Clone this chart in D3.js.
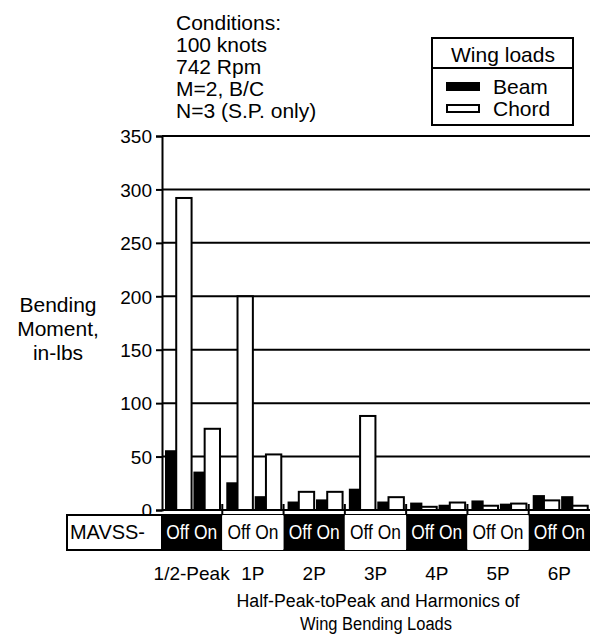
<!DOCTYPE html>
<html>
<head>
<meta charset="utf-8">
<script src="https://cdn.jsdelivr.net/npm/d3@7"></script>
<style>
  body { margin: 0; background: #fff; }
  text { font-family: "Liberation Sans", Arial, sans-serif; fill: #000; }
</style>
</head>
<body>
<script>
// data
var categories = ["1/2-Peak", "1P", "2P", "3P", "4P", "5P", "6P"];
var beamOff  = [55, 25, 7, 19, 6, 8, 13];
var chordOff = [292, 200, 17, 88, 3, 4, 9];
var beamOn   = [35, 12, 9, 7, 4, 5, 12];
var chordOn  = [76, 52, 17, 12, 7, 6, 4];
var yTicks = [0, 50, 100, 150, 200, 250, 300, 350];
var conditions = ["Conditions:", "100 knots", "742 Rpm", "M=2, B/C", "N=3 (S.P. only)"];

var w = 590, h = 635;
var plotLeft = 162, plotRight = 590, plotTop = 136, plotBottom = 510;

var svg = d3.select("body").append("svg")
  .attr("width", w)
  .attr("height", h);

var y = d3.scaleLinear().domain([0, 350]).range([plotBottom, plotTop]);

// groups span from the label row start
var x = d3.scaleBand().domain(categories).range([161, 590]);
var pair = d3.scaleBand().domain(["Off", "On"]).range([5, 59]).paddingInner(0.1);
var beamW = pair.bandwidth() * 0.4;
var chordW = pair.bandwidth() - beamW;

// gridlines
svg.append("g").selectAll("line")
  .data(yTicks.filter(function(d) { return d > 0; }))
  .enter().append("line")
  .attr("x1", plotLeft).attr("x2", plotRight)
  .attr("y1", function(d) { return y(d); })
  .attr("y2", function(d) { return y(d); })
  .attr("stroke", "#000").attr("stroke-width", 2);

// y axis
var yAxis = svg.append("g")
  .attr("transform", "translate(" + plotLeft + ",0)")
  .call(d3.axisLeft(y).tickValues(yTicks).tickSize(6).tickPadding(4));
yAxis.select(".domain").attr("stroke-width", 2);
yAxis.selectAll(".tick line").attr("stroke-width", 2);
yAxis.selectAll("text").style("font-size", "19px").attr("dy", "0.36em");

// bars
var rows = categories.map(function(c, i) {
  return [
    { cat: c, m: "Off", type: "beam", v: beamOff[i] },
    { cat: c, m: "Off", type: "chord", v: chordOff[i] },
    { cat: c, m: "On", type: "beam", v: beamOn[i] },
    { cat: c, m: "On", type: "chord", v: chordOn[i] }
  ];
});
var flat = [].concat.apply([], rows);

svg.append("g").selectAll("rect")
  .data(flat)
  .enter().append("rect")
  .attr("x", function(d) {
    return x(d.cat) + pair(d.m) + (d.type == "chord" ? beamW : 0);
  })
  .attr("width", function(d) { return d.type == "beam" ? beamW : chordW; })
  .attr("y", function(d) { return y(d.v); })
  .attr("height", function(d) { return plotBottom - y(d.v); })
  .attr("fill", function(d) { return d.type == "beam" ? "#000" : "#fff"; })
  .attr("stroke", "#000")
  .attr("stroke-width", 2);

// baseline
svg.append("line")
  .attr("x1", plotLeft).attr("x2", plotRight)
  .attr("y1", plotBottom).attr("y2", plotBottom)
  .attr("stroke", "#000").attr("stroke-width", 2);

// group boundary ticks
svg.append("g").selectAll("line")
  .data(categories.slice(1))
  .enter().append("line")
  .attr("x1", function(d) { return x(d); })
  .attr("x2", function(d) { return x(d); })
  .attr("y1", plotBottom - 6).attr("y2", plotBottom + 7)
  .attr("stroke", "#000").attr("stroke-width", 2);

// MAVSS row
var rowTop = 515, rowBot = 550;
svg.append("rect")
  .attr("x", 67).attr("y", rowTop)
  .attr("width", 590 - 67).attr("height", rowBot - rowTop)
  .attr("fill", "#fff").attr("stroke", "#000").attr("stroke-width", 2);
svg.append("text")
  .attr("x", 70).attr("y", 539)
  .style("font-size", "21px")
  .attr("textLength", 75).attr("lengthAdjust", "spacingAndGlyphs")
  .text("MAVSS-");

var cells = svg.append("g").selectAll("g")
  .data(categories)
  .enter().append("g");
cells.append("rect")
  .attr("x", function(d) { return x(d); })
  .attr("y", rowTop)
  .attr("width", x.bandwidth())
  .attr("height", rowBot - rowTop)
  .attr("fill", function(d, i) { return i % 2 == 0 ? "#000" : "#fff"; });
cells.append("text")
  .attr("x", function(d) { return x(d) + x.bandwidth() / 2; })
  .attr("y", 539)
  .attr("text-anchor", "middle")
  .style("font-size", "21px")
  .attr("textLength", 51).attr("lengthAdjust", "spacingAndGlyphs")
  .style("fill", function(d, i) { return i % 2 == 0 ? "#fff" : "#000"; })
  .text("Off On");

// category labels
svg.append("g").selectAll("text")
  .data(categories)
  .enter().append("text")
  .attr("x", function(d) { return x(d) + x.bandwidth() / 2; })
  .attr("y", 580)
  .attr("text-anchor", "middle")
  .style("font-size", "19px")
  .text(function(d) { return d; });

// x title
svg.append("text")
  .attr("x", 378).attr("y", 607)
  .attr("text-anchor", "middle")
  .style("font-size", "18px")
  .attr("textLength", 283).attr("lengthAdjust", "spacingAndGlyphs")
  .text("Half-Peak-toPeak and Harmonics of");
svg.append("text")
  .attr("x", 376).attr("y", 630)
  .attr("text-anchor", "middle")
  .style("font-size", "18px")
  .attr("textLength", 152).attr("lengthAdjust", "spacingAndGlyphs")
  .text("Wing Bending Loads");

// y title
svg.append("text")
  .attr("text-anchor", "middle")
  .style("font-size", "21px")
  .selectAll("tspan")
  .data(["Bending", "Moment,", "in-lbs"])
  .enter().append("tspan")
  .attr("x", 58)
  .attr("y", function(d, i) { return 312 + i * 24; })
  .text(function(d) { return d; });

// conditions
svg.append("text")
  .style("font-size", "21px")
  .selectAll("tspan")
  .data(conditions)
  .enter().append("tspan")
  .attr("x", 176)
  .attr("y", function(d, i) { return 30 + i * 22; })
  .text(function(d) { return d; });

// legend
var lg = svg.append("g");
lg.append("rect")
  .attr("x", 432).attr("y", 38).attr("width", 141).attr("height", 87)
  .attr("fill", "#fff").attr("stroke", "#000").attr("stroke-width", 2);
lg.append("line")
  .attr("x1", 432).attr("x2", 573).attr("y1", 68).attr("y2", 68)
  .attr("stroke", "#000").attr("stroke-width", 2);
lg.append("text")
  .attr("x", 503).attr("y", 62)
  .attr("text-anchor", "middle")
  .style("font-size", "21px")
  .text("Wing loads");
var series = [{ name: "Beam", fill: "#000" }, { name: "Chord", fill: "#fff" }];
var li = lg.selectAll(".item").data(series).enter().append("g")
  .attr("transform", function(d, i) { return "translate(0," + (i * 22) + ")"; });
li.append("rect")
  .attr("x", 447).attr("y", 83).attr("width", 32).attr("height", 7)
  .attr("fill", function(d) { return d.fill; })
  .attr("stroke", "#000").attr("stroke-width", 2);
li.append("text")
  .attr("x", 493).attr("y", 94)
  .style("font-size", "21px")
  .text(function(d) { return d.name; });
</script>
</body>
</html>
